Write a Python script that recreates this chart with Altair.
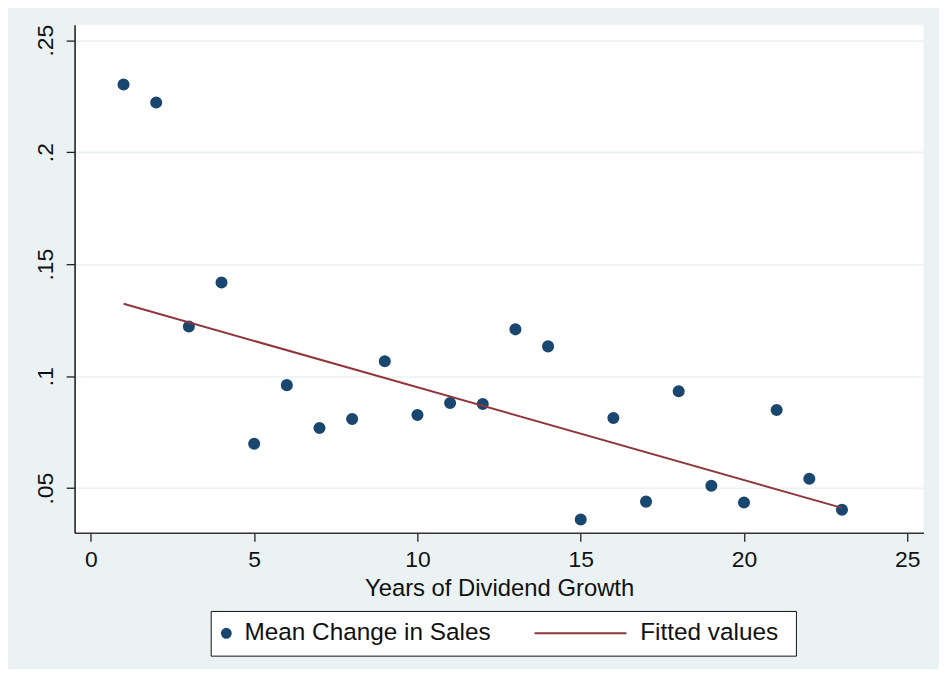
import altair as alt
import pandas as pd

# ---- data ----
years = list(range(1, 24))
mean_change = [0.2302, 0.2222, 0.1222, 0.1418, 0.0698, 0.0960, 0.0769, 0.0809,
               0.1067, 0.0827, 0.0880, 0.0876, 0.1209, 0.1133, 0.0360, 0.0813,
               0.0440, 0.0933, 0.0511, 0.0436, 0.0849, 0.0542, 0.0404]
fit_x = [1, 23]
fit_y = [0.1323, 0.0412]

x_ticks = [0, 5, 10, 15, 20, 25]
y_ticks = [0.05, 0.10, 0.15, 0.20, 0.25]

S1 = "Mean Change in Sales"
S2 = "Fitted values"
SERIES = [S1, S2]

pts = pd.DataFrame({"x": years, "y": mean_change, "series": S1})
fit = pd.DataFrame({"x": fit_x, "y": fit_y, "series": S2})

FONT = "Liberation Sans"
NAVY = "#1A476F"
MAROON = "#90353B"
BG = "#EAF2F3"

xscale = alt.Scale(domain=[-0.5, 25.5], nice=False, zero=False)
yscale = alt.Scale(domain=[0.0301, 0.2569], nice=False, zero=False)
col_scale = alt.Scale(domain=SERIES, range=[NAVY, MAROON])
shape_scale = alt.Scale(domain=SERIES, range=["circle", "stroke"])
size_scale = alt.Scale(type="ordinal", domain=SERIES, range=[80, 9570])

xaxis = alt.Axis(values=x_ticks, title="Years of Dividend Growth", grid=False,
                 labelFont=FONT, labelFontSize=23, labelColor="#111",
                 labelBaseline="top", labelPadding=7, tickSize=8.5,
                 tickColor="#222", tickWidth=1.3, domainColor="#333",
                 domainWidth=1.6, titleFont=FONT, titleFontSize=24,
                 titleFontWeight="normal", titleColor="#111", titlePadding=6)
yaxis = alt.Axis(values=y_ticks, title=None, grid=True, gridColor=BG,
                 gridWidth=1.6, labelFont=FONT, labelFontSize=23,
                 labelColor="#111", labelAngle=-90, labelAlign="center",
                 labelBaseline="alphabetic", labelPadding=13.5,
                 labelExpr="slice(format(datum.value, '.2~f'), 1)",
                 tickSize=8.5, tickColor="#222", tickWidth=1.3,
                 domainColor="#222", domainWidth=1.6)

legend = alt.Legend(title=None, orient="none", legendX=137, legendY=590,
                    direction="horizontal", clipHeight=24.5,
                    symbolStrokeWidth=2, symbolFillColor=NAVY,
                    symbolStrokeColor=MAROON, symbolOffset=-6.5,
                    labelFont=FONT, labelFontSize=24.5, labelColor="#111",
                    labelLimit=2000, labelOffset=6, columnPadding=44,
                    padding=10, strokeColor="#111", fillColor="white",
                    labelExpr="datum.label == '" + S2 + "' ? "
                              "'\u200b\u00a0' + datum.label + '\u00a0\u200b'"
                              " : datum.label")

points = alt.Chart(pts).mark_point(filled=True, opacity=1, strokeWidth=3.2).encode(
    x=alt.X("x:Q", scale=xscale, axis=xaxis),
    y=alt.Y("y:Q", scale=yscale, axis=yaxis),
    fill=alt.Fill("series:N", scale=col_scale, legend=legend),
    stroke=alt.Stroke("series:N", scale=col_scale, legend=legend),
    shape=alt.Shape("series:N", scale=shape_scale, legend=legend),
    size=alt.Size("series:N", scale=size_scale, legend=legend),
)

line = alt.Chart(fit).mark_line(strokeWidth=2).encode(
    x=alt.X("x:Q", scale=xscale),
    y=alt.Y("y:Q", scale=yscale),
    stroke=alt.Stroke("series:N", scale=col_scale, legend=legend),
)

chart = alt.layer(points, line).properties(
    width=854.5, height=511.3,
    background=BG,
    padding={"left": 67, "top": 14.7, "right": 15.5, "bottom": 135},
    autosize=alt.AutoSizeParams(type="none"),
).configure_view(fill="white", stroke=None)

chart.save("out.html", embed_options={"renderer": "svg", "actions": False})
